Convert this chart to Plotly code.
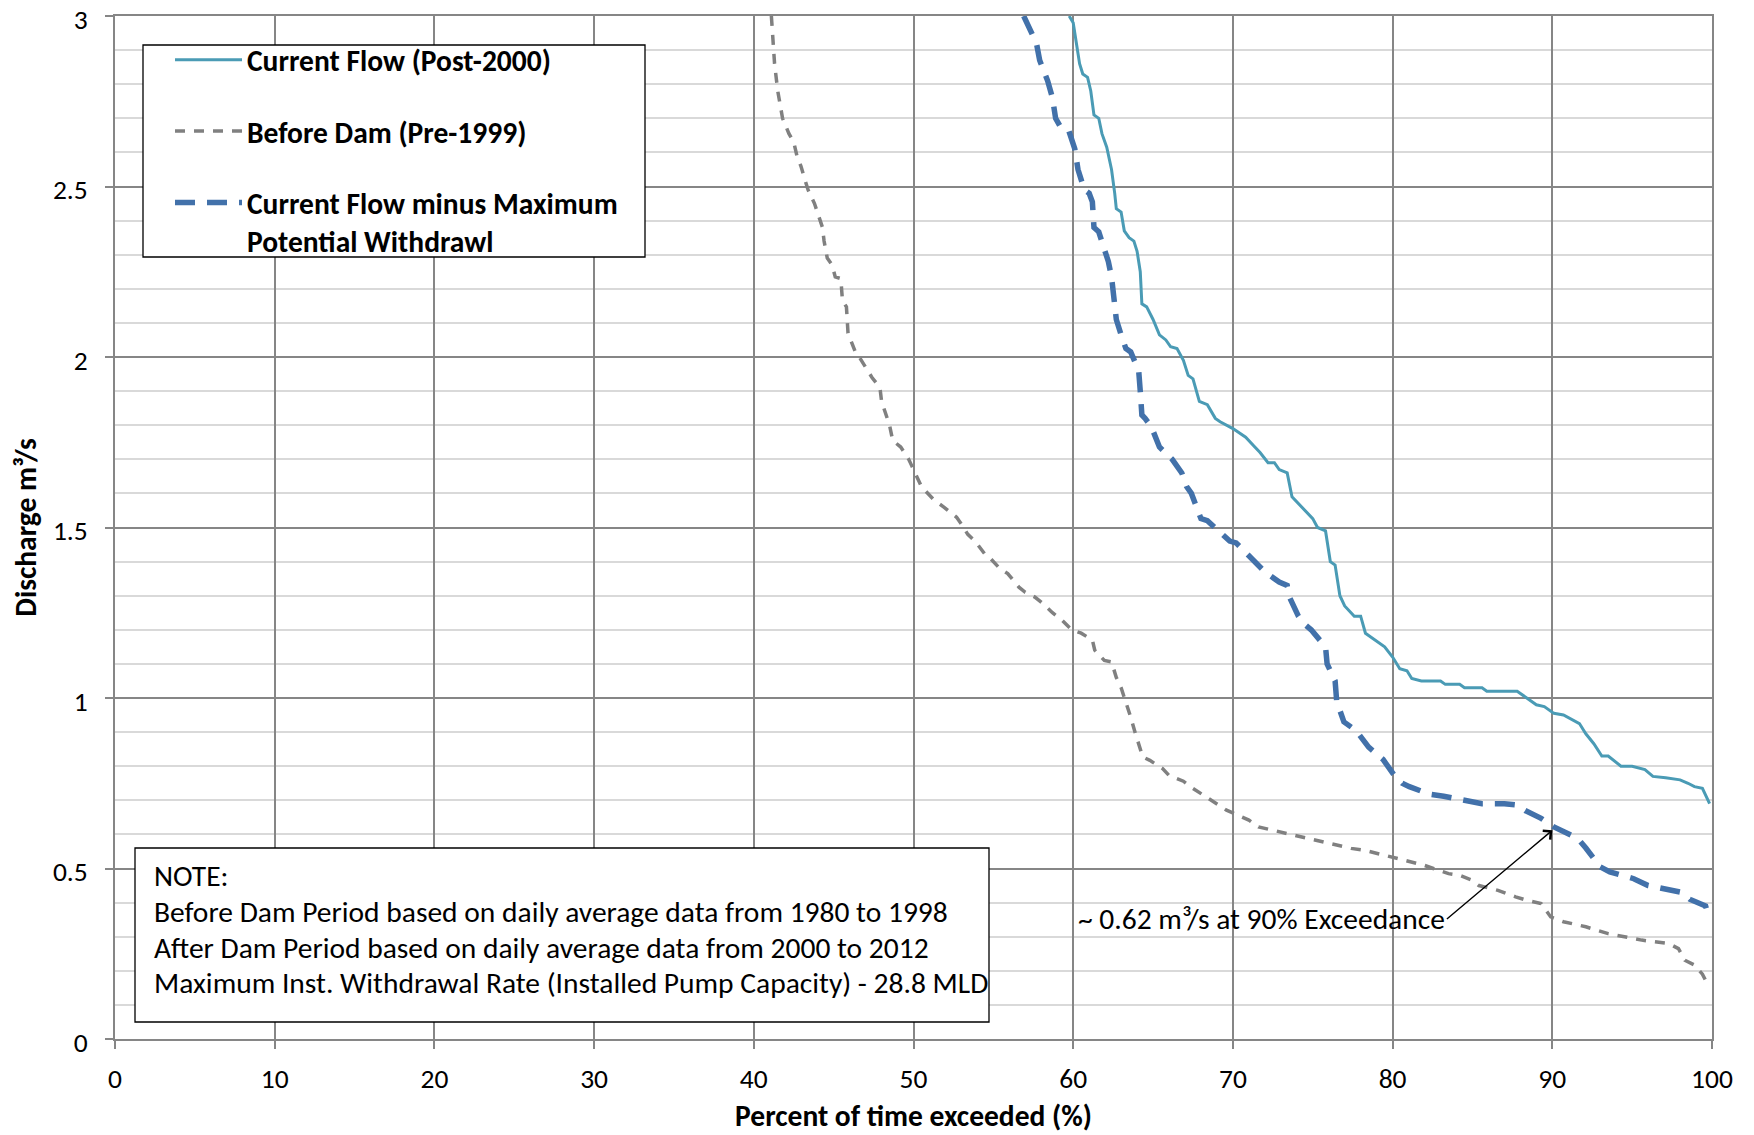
import plotly.graph_objects as go

# ---------------- data ----------------
current_x = [59.75, 60.0, 60.2, 60.4, 60.6, 60.9, 61.1, 61.3, 61.6, 61.8, 62.1, 62.4, 62.6, 62.7, 63.0,
             63.2, 63.5, 63.8, 64.0, 64.2, 64.3, 64.6, 65.0, 65.4, 65.8, 66.1, 66.5, 66.9, 67.2, 67.5,
             67.9, 68.4, 68.9, 69.2, 70.0, 70.8, 71.3, 71.7, 72.2, 72.6, 72.9, 73.4, 73.7, 74.1, 74.6,
             75.0, 75.3, 75.8, 76.1, 76.4, 76.7, 77.0, 77.6, 78.0, 78.3, 78.9, 79.5, 80.0, 80.45, 80.9,
             81.2, 81.8, 83.0, 83.3, 84.2, 84.5, 85.6, 85.9, 87.8, 88.4, 89.0, 89.5, 90.1, 90.7, 91.3,
             91.7, 92.1, 92.6, 93.1, 93.5, 94.3, 95.0, 95.8, 96.3, 97.1, 98.0, 98.5, 98.9, 99.4, 99.85]
current_y = [3.00, 2.98, 2.92, 2.86, 2.83, 2.82, 2.78, 2.71, 2.70, 2.655, 2.615, 2.55, 2.48, 2.435, 2.425,
             2.37, 2.35, 2.34, 2.31, 2.25, 2.156, 2.147, 2.11, 2.065, 2.05, 2.03, 2.025, 1.99, 1.946, 1.936,
             1.87, 1.86, 1.82, 1.81, 1.79, 1.765, 1.74, 1.72, 1.69, 1.69, 1.67, 1.66, 1.59, 1.57, 1.545,
             1.526, 1.50, 1.49, 1.40, 1.39, 1.30, 1.27, 1.24, 1.24, 1.19, 1.17, 1.15, 1.12, 1.086, 1.08,
             1.057, 1.05, 1.05, 1.04, 1.04, 1.03, 1.03, 1.02, 1.02, 1.00, 0.98, 0.975, 0.955, 0.95, 0.935,
             0.925, 0.895, 0.866, 0.83, 0.83, 0.80, 0.80, 0.79, 0.77, 0.766, 0.76, 0.75, 0.74, 0.735, 0.69]

before_x = [41.1, 41.14, 41.3, 41.5, 41.8, 42.2, 42.5, 42.7, 42.95, 43.2, 43.4, 43.8, 44.0, 44.3, 44.4,
            44.6, 44.9, 45.1, 45.45, 45.55, 45.8, 45.9, 46.4, 46.6, 47.0, 47.4, 47.9, 48.0, 48.5, 48.7,
            49.2, 49.7, 49.9, 50.5, 50.7, 51.3, 51.9, 52.7, 53.0, 53.4, 53.9, 54.5, 54.8, 55.4, 55.9,
            56.6, 57.0, 57.6, 58.1, 58.7, 59.3, 59.9, 60.5, 61.2, 61.35, 61.95, 62.4, 62.7, 63.0, 63.3,
            63.6, 63.9, 64.2, 64.36, 64.8, 65.6, 66.0, 66.9, 67.5, 68.6, 69.6, 70.1, 71.0, 71.6, 72.5,
            73.7, 74.6, 76.1, 77.4, 78.2, 79.1, 80.15, 80.9, 81.95, 82.55, 83.5, 84.2, 84.96, 85.4, 86.6,
            87.7, 88.4, 89.3, 89.6, 89.9, 90.7, 92.1, 93.5, 94.4, 95.6, 97.3, 97.9, 98.3, 98.9, 99.4, 99.8]
before_y = [3.00, 2.97, 2.86, 2.78, 2.70, 2.655, 2.63, 2.59, 2.56, 2.52, 2.49, 2.45, 2.42, 2.38, 2.34,
            2.29, 2.27, 2.235, 2.23, 2.166, 2.147, 2.07, 2.01, 2.00, 1.97, 1.94, 1.91, 1.87, 1.80, 1.755,
            1.736, 1.70, 1.68, 1.62, 1.61, 1.58, 1.56, 1.53, 1.51, 1.48, 1.457, 1.42, 1.41, 1.38, 1.365,
            1.325, 1.31, 1.296, 1.277, 1.25, 1.228, 1.20, 1.19, 1.17, 1.14, 1.11, 1.106, 1.06, 1.03, 0.988,
            0.944, 0.895, 0.846, 0.827, 0.817, 0.793, 0.773, 0.756, 0.735, 0.70, 0.671, 0.661, 0.642, 0.622, 0.612,
            0.598, 0.588, 0.573, 0.559, 0.554, 0.544, 0.53, 0.524, 0.51, 0.50, 0.485, 0.48, 0.466, 0.45, 0.436,
            0.417, 0.407, 0.397, 0.378, 0.358, 0.344, 0.329, 0.309, 0.30, 0.29, 0.28, 0.265, 0.231, 0.217, 0.19, 0.154]

minus_x = [56.9, 57.1, 57.7, 57.9, 58.4, 58.7, 58.9, 59.2, 59.7, 60.1, 60.3, 60.7, 61.0, 61.2, 61.3,
           61.6, 61.8, 62.2, 62.4, 62.7, 63.1, 63.3, 63.6, 64.1, 64.2, 64.3, 64.5, 64.9, 65.4, 65.8,
           66.2, 66.8, 67.1, 67.4, 67.8, 68.0, 68.4, 69.3, 69.8, 70.2, 71.1, 71.6, 72.0, 72.9, 73.4,
           73.5, 74.1, 74.4, 74.9, 75.8, 75.9, 76.4, 76.5, 76.95, 77.7, 78.5, 79.4, 80.15, 80.6, 81.05,
           82.3, 83.2, 84.7, 85.6, 87.0, 87.8, 88.3, 89.3, 90.1, 91.1, 91.6, 92.1, 93.0, 93.6, 95.1,
           96.0, 97.5, 98.1, 98.6, 99.6, 99.85]
minus_y = [3.00, 2.98, 2.92, 2.87, 2.81, 2.76, 2.70, 2.675, 2.667, 2.61, 2.55, 2.49, 2.48, 2.455, 2.38,
           2.367, 2.34, 2.28, 2.235, 2.11, 2.05, 2.025, 2.015, 1.96, 1.90, 1.83, 1.82, 1.795, 1.736, 1.72,
           1.70, 1.66, 1.62, 1.60, 1.555, 1.526, 1.52, 1.48, 1.46, 1.455, 1.41, 1.39, 1.37, 1.34, 1.33,
           1.30, 1.24, 1.22, 1.20, 1.15, 1.10, 1.05, 0.99, 0.93, 0.905, 0.856, 0.82, 0.77, 0.75, 0.74,
           0.718, 0.712, 0.696, 0.69, 0.69, 0.686, 0.67, 0.647, 0.622, 0.60, 0.588, 0.56, 0.505, 0.49, 0.47,
           0.45, 0.436, 0.43, 0.41, 0.39, 0.35]

series_names = ["Current Flow (Post-2000)", "Before Dam (Pre-1999)",
                "Current Flow minus Maximum<br>Potential Withdrawl"]

note_lines = ["NOTE:",
              "Before Dam Period based on daily average data from 1980 to 1998",
              "After Dam Period based on daily average data from 2000 to 2012",
              "Maximum Inst. Withdrawal Rate (Installed Pump Capacity) - 28.8 MLD"]

callout_text = "~ 0.62 m³/s at 90% Exceedance"
callout_point = (90, 0.612)
callout_tail = (83.4, 0.352)

x_ticks = [0, 10, 20, 30, 40, 50, 60, 70, 80, 90, 100]
y_ticks = [0, 0.5, 1, 1.5, 2, 2.5, 3]
y_tick_text = ["0", "0.5", "1", "1.5", "2", "2.5", "3"]

# ---------------- figure ----------------
FONT = "Calibri, Carlito, Lato, sans-serif"
TEAL = "rgb(74,155,181)"
BLUE = "rgb(66,113,170)"
GRAY = "rgb(128,128,128)"
GRID_DARK = "rgb(134,134,134)"
GRID_LIGHT = "rgb(217,217,217)"
TXT = 29.5
TICK = 27.5

fig = go.Figure()
fig.add_trace(go.Scatter(x=current_x, y=current_y, mode="lines", name=series_names[0],
                         legendgroup="a", line=dict(color=TEAL, width=3)))
fig.add_trace(go.Scatter(x=before_x, y=before_y, mode="lines", name=series_names[1],
                         legendgroup="b", line=dict(color=GRAY, width=3.5, dash="10px,9px")))
fig.add_trace(go.Scatter(x=minus_x, y=minus_y, mode="lines", name=series_names[2],
                         legendgroup="c", line=dict(color=BLUE, width=5.5, dash="20px,12px")))

# page has an 8px body margin: compensate so the plot area lands where the reference has it
OFF = 8
W, H = 1754 - OFF, 1135 - OFF
PL, PR, PT, PB = 115, 1712, 16, 1039          # plot area in page pixels
L, T = PL - OFF, PT - OFF
R = W - (PR - OFF)
B = H - (PB - OFF)
PW, PH = PR - PL, PB - PT


def px(xp):
    return (xp - PL) / PW


def py(yp):
    return (PB - yp) / PH


shapes = [
    dict(type="rect", xref="paper", yref="paper", x0=px(143), x1=px(645), y0=py(257), y1=py(45),
         line=dict(color="black", width=1.3), fillcolor="white", layer="above"),
    dict(type="rect", xref="paper", yref="paper", x0=px(135), x1=px(989), y0=py(1022), y1=py(848),
         line=dict(color="black", width=1.3), fillcolor="white", layer="above"),
]

annotations = []
note_y = [876, 912, 947.5, 983]
for txt, yy in zip(note_lines, note_y):
    annotations.append(dict(text=txt, xref="paper", yref="paper", x=px(152), y=py(yy),
                            xanchor="left", yanchor="middle", showarrow=False,
                            font=dict(family=FONT, size=TXT, color="black")))

annotations.append(dict(text=callout_text, x=callout_point[0], y=callout_point[1],
                        ax=callout_tail[0], ay=callout_tail[1], axref="x", ayref="y",
                        xref="x", yref="y", xanchor="right", yanchor="middle",
                        showarrow=True, arrowhead=4, arrowsize=1.6, arrowwidth=1.4,
                        arrowcolor="black", font=dict(family=FONT, size=TXT, color="black")))

fig.update_layout(
    width=W, height=H,
    margin=dict(l=L, r=R, t=T, b=B, pad=0, autoexpand=False),
    paper_bgcolor="white", plot_bgcolor="white",
    font=dict(family=FONT, size=TXT, color="black"),
    showlegend=True,
    legend=dict(x=px(170), y=py(34), xanchor="left", yanchor="top",
                bgcolor="rgba(0,0,0,0)", borderwidth=0,
                font=dict(family=FONT, size=TXT, color="black", weight="bold"),
                itemwidth=67, traceorder="grouped", tracegroupgap=30, valign="top"),
    shapes=shapes,
    annotations=annotations,
    xaxis=dict(range=[0, 100], tickmode="array", tickvals=x_ticks, automargin=False,
               ticks="outside", ticklen=8, tickcolor=GRID_DARK, tickwidth=1.5,
               showline=True, linecolor=GRID_DARK, linewidth=1.5, mirror=True,
               showgrid=True, gridcolor=GRID_DARK, gridwidth=1.5, zeroline=False,
               tickfont=dict(family=FONT, size=TICK, color="black"), ticklabelstandoff=6,
               ticklabeloverflow="allow",
               title=dict(text="<b>Percent of time exceeded (%)</b>", standoff=12,
                          font=dict(family=FONT, size=TXT, color="black"))),
    yaxis=dict(range=[0, 3], tickmode="array", tickvals=y_ticks, ticktext=y_tick_text, automargin=False,
               ticks="outside", ticklen=8, tickcolor=GRID_DARK, tickwidth=1.5,
               showline=True, linecolor=GRID_DARK, linewidth=1.5, mirror=True,
               showgrid=True, gridcolor=GRID_DARK, gridwidth=1.5, zeroline=False,
               minor=dict(dtick=0.1, showgrid=True, gridcolor=GRID_LIGHT, gridwidth=2, ticks=""),
               tickfont=dict(family=FONT, size=TICK, color="black"), ticklabelstandoff=12,
               ticklabelshift=3, ticklabeloverflow="allow",
               title=dict(text="<b>Discharge m³/s</b>", standoff=8,
                          font=dict(family=FONT, size=TXT, color="black"))),
)

fig.write_html("out.html")
